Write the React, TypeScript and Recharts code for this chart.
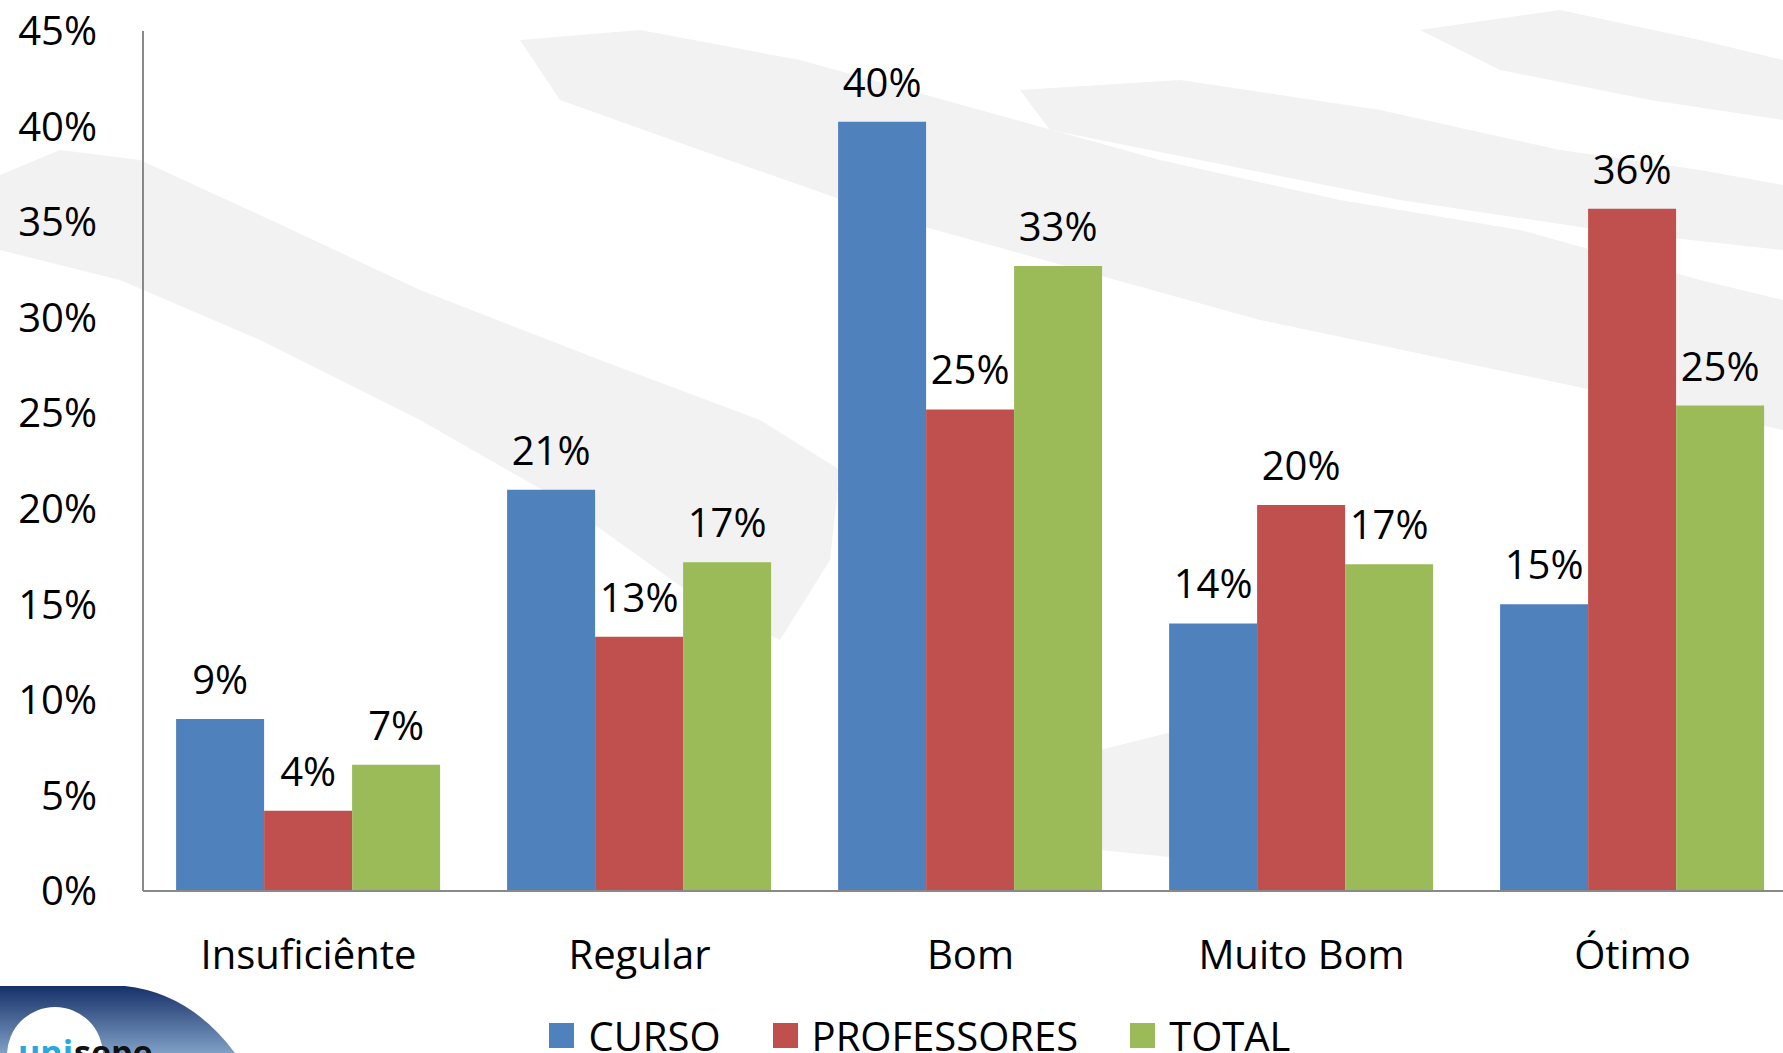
import { BarChart, Bar, XAxis, YAxis, Legend, LabelList } from 'recharts';

const categories = ['Insuficiênte', 'Regular', 'Bom', 'Muito Bom', 'Ótimo'];
const curso = [9.0, 21.0, 40.25, 14.0, 15.0];
const professores = [4.2, 13.3, 25.2, 20.2, 35.7];
const total = [6.6, 17.2, 32.7, 17.1, 25.4];
const yTicks = [0, 5, 10, 15, 20, 25, 30, 35, 40, 45];

const series = [
  { key: 'curso', name: 'CURSO', color: '#4F81BD' },
  { key: 'professores', name: 'PROFESSORES', color: '#C0504D' },
  { key: 'total', name: 'TOTAL', color: '#9BBB59' },
];

const data = categories.map((name, i) => ({
  name,
  curso: curso[i],
  professores: professores[i],
  total: total[i],
}));

const FONT = '"Open Sans", sans-serif';

const XTick = ({ x, y, payload }: any) => (
  <text x={x} y={y} dy={62} textAnchor="middle" dominantBaseline="central" fontSize={40} fill="#000" fontFamily={FONT}>
    {payload.value}
  </text>
);

const LegendContent = () => (
  <div style={{ height: 56, display: 'flex', justifyContent: 'center', alignItems: 'center', paddingLeft: 42, fontFamily: FONT, fontSize: 40 }}>
    {series.map((s) => (
      <div key={s.key} style={{ display: 'flex', alignItems: 'center', margin: '0 26px' }}>
        <span style={{ width: 25, height: 25, background: s.color, display: 'inline-block', marginRight: 14 }} />
        <span>{s.name}</span>
      </div>
    ))}
  </div>
);

export default function App() {
  return (
    <div style={{ position: 'fixed', left: 0, top: 0, width: 1783, height: 1053, overflow: 'hidden', background: '#fff' }}>
      {/* faint brush-stroke watermark behind the chart */}
      <svg width={1783} height={1053} style={{ position: 'absolute', left: 0, top: 0 }}>
        <g fill="#f2f2f2">
          <path d="M0 175 L60 150 L140 160 L260 215 L420 290 L600 360 L760 420 L840 470 L830 560 L780 640 L700 600 L560 500 L420 420 L260 340 L120 280 L0 250 Z" />
          <path d="M520 40 L640 30 L800 60 L980 110 L1160 160 L1340 200 L1520 230 L1700 280 L1783 300 L1783 430 L1640 400 L1450 360 L1260 320 L1080 270 L900 220 L700 150 L560 100 Z" />
          <path d="M1020 90 L1180 80 L1380 110 L1560 150 L1700 170 L1783 185 L1783 250 L1600 230 L1400 200 L1200 160 L1050 130 Z" />
          <path d="M1060 760 L1180 730 L1320 750 L1300 820 L1200 860 L1100 850 Z" />
          <path d="M1420 30 L1560 10 L1700 40 L1783 60 L1783 120 L1650 100 L1500 70 Z" />
        </g>
      </svg>

      <div style={{ position: 'absolute', left: 0, top: 0 }}>
        <BarChart
          width={1800}
          height={1063}
          data={data}
          margin={{ top: 31, right: 2, bottom: 0, left: 0 }}
          barCategoryGap="10%"
          barGap={0}
        >
          <XAxis
            dataKey="name"
            height={116}
            tickLine={false}
            tickSize={0}
            tickMargin={0}
            axisLine={{ stroke: '#898989', strokeWidth: 2 }}
            tick={<XTick />}
            interval={0}
          />
          <YAxis
            width={143}
            domain={[0, 45]}
            ticks={yTicks}
            tickFormatter={(v: number) => `${v}%`}
            tickLine={false}
            tickSize={0}
            tickMargin={46}
            axisLine={{ stroke: '#898989', strokeWidth: 2 }}
            tick={{ fontSize: 40, fill: '#000', fontFamily: FONT }}
            interval={0}
          />
          <Legend verticalAlign="bottom" content={<LegendContent />} />
          {series.map((s) => (
            <Bar key={s.key} dataKey={s.key} name={s.name} fill={s.color} isAnimationActive={false}>
              <LabelList
                dataKey={s.key}
                position="top"
                offset={25}
                formatter={(v: any) => `${Math.round(Number(v))}%`}
                style={{ fontSize: 40, fill: '#000', fontFamily: FONT }}
              />
            </Bar>
          ))}
        </BarChart>
      </div>

      {/* logo corner, cut off at the bottom edge */}
      <svg width={260} height={70} style={{ position: 'absolute', left: 0, top: 983 }}>
        <defs>
          <linearGradient id="logoGrad" x1="0" y1="0" x2="0" y2="1">
            <stop offset="0%" stopColor="#16306a" />
            <stop offset="100%" stopColor="#7f9fc4" />
          </linearGradient>
        </defs>
        <path d="M0 3 L125 3 Q190 10 235 70 L0 70 Z" fill="url(#logoGrad)" />
        <circle cx={55} cy={72} r={48} fill="#fff" />
        <text x={18} y={82} fontSize={34} fontWeight="bold" fill="#29a8e0" fontFamily={FONT}>uni</text>
        <text x={74} y={82} fontSize={34} fontWeight="bold" fill="#111" fontFamily={FONT}>sepe</text>
      </svg>
    </div>
  );
}
